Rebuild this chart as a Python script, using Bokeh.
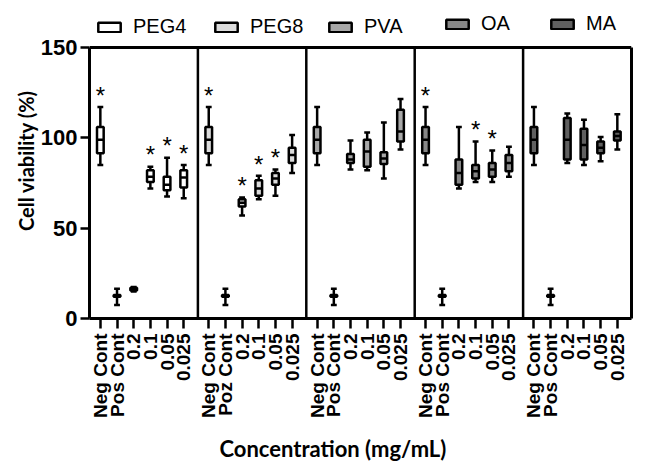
import math
from bokeh.plotting import figure
from bokeh.models import (Range1d, FixedTicker, Span, Legend, LegendItem, ColumnDataSource,
                          LinearAxis, Title)
from bokeh.core.properties import value
from bokeh.embed import file_html
from bokeh.resources import INLINE

# ---------------- data ----------------
groups = ["PEG4", "PEG8", "PVA", "OA", "MA"]
group_colors = ["#ffffff", "#dcdcdc", "#a8a8a8", "#878787", "#606060"]
tick_labels = [
    "Neg Cont", "Pos Cont", "0.2", "0.1", "0.05", "0.025",
    "Neg Cont", "Poz Cont", "0.2", "0.1", "0.05", "0.025",
    "Neg Cont", "Pos Cont", "0.2", "0.1", "0.05", "0.025",
    "Neg Cont", "Pos Cont", "0.2", "0.1", "0.05", "0.025",
    "Neg Cont", "Pos Cont", "0.2", "0.1", "0.05", "0.025",
]
whisker_low = [
    85, 7.5, 15.0, 72.0, 67.5, 66.5,
    85, 7.5, 57.0, 66.0, 68.0, 80.5,
    85, 7.5, 82.5, 82.0, 77.5, 93.5,
    85, 7.5, 72.0, 75.5, 75.5, 78.5,
    85, 7.5, 86.0, 85.0, 87.0, 93.5,
]
box_low = [
    91.5, 12.0, 15.5, 75.5, 71.0, 72.5,
    91.5, 12.0, 62.0, 68.0, 74.0, 86.0,
    91.5, 12.0, 86.0, 84.0, 85.5, 98.0,
    91.5, 12.0, 74.0, 77.5, 78.5, 81.5,
    91.5, 12.0, 88.0, 88.0, 91.5, 98.5,
]
median = [
    99.0, 12.5, 16.0, 78.5, 74.0, 78.0,
    99.0, 12.5, 64.0, 72.0, 77.5, 90.5,
    99.0, 12.5, 88.0, 92.5, 88.5, 103.5,
    99.0, 12.5, 80.5, 81.5, 82.5, 86.0,
    99.0, 12.5, 99.0, 96.0, 94.5, 101.0,
]
box_high = [
    106.0, 13.0, 17.0, 82.0, 78.5, 82.0,
    106.0, 13.0, 66.0, 76.5, 80.5, 94.5,
    106.0, 13.0, 91.0, 99.0, 92.0, 115.5,
    106.0, 13.0, 88.0, 85.0, 86.0, 90.5,
    106.0, 13.0, 111.0, 105.0, 98.0, 103.5,
]
whisker_high = [
    117.0, 16.5, 17.5, 84.0, 89.0, 85.0,
    117.0, 16.5, 67.0, 79.0, 82.5, 101.5,
    117.0, 16.5, 98.5, 103.0, 108.5, 121.5,
    117.0, 16.5, 106.0, 98.0, 93.0, 95.0,
    117.0, 16.5, 113.5, 110.0, 100.5, 113.0,
]
significant = [
    1, 0, 0, 1, 1, 1,
    1, 0, 1, 1, 1, 0,
    0, 0, 0, 0, 0, 0,
    1, 0, 0, 1, 1, 0,
    0, 0, 0, 0, 0, 0,
]
y_ticks = [0, 50, 100, 150]

# ---------------- layout constants ----------------
n_per = 6
step = 20          # spacing between categories (x units)
panel_w = 130      # panel width (x units)
offset = 13        # first category offset inside panel
box_w = 8
cap_w = 7
star_gap = 6.5
y_top = y_ticks[-1]
y_view = 174.9     # extra room above the axes for the legend

xs = [g * panel_w + offset + i * step for g in range(len(groups)) for i in range(n_per)]

p = figure(width=646, height=475, output_backend="svg", toolbar_location=None,
           x_range=Range1d(0, panel_w * len(groups)), y_range=Range1d(0, y_view),
           min_border_left=89, min_border_right=15, min_border_top=2, min_border_bottom=157)
p.background_fill_color = "white"
p.border_fill_color = "white"
p.outline_line_color = None
p.xgrid.visible = False
p.ygrid.visible = False

# panel frame: top line, right axis line, dividers
p.add_layout(Span(location=y_top, dimension="width", line_color="black", line_width=3))
div_x = [k * panel_w for k in range(1, len(groups))]
p.segment(x0=div_x, y0=[0] * len(div_x), x1=div_x, y1=[y_top] * len(div_x),
          line_color="black", line_width=2.5)
right_axis = LinearAxis(bounds=(0, y_top), ticker=FixedTicker(ticks=[]),
                        axis_line_width=3, major_tick_line_color=None, minor_tick_line_color=None,
                        major_label_text_font_size="0px")
p.add_layout(right_axis, "right")

box_renderers = []
for g, color in enumerate(group_colors):
    sl = slice(g * n_per, (g + 1) * n_per)
    x = xs[sl]
    src = ColumnDataSource(dict(
        x=x,
        lo=whisker_low[sl], q1=box_low[sl], med=median[sl], q3=box_high[sl], hi=whisker_high[sl],
        cl=[v - cap_w / 2 for v in x], cr=[v + cap_w / 2 for v in x],
        bl=[v - box_w / 2 for v in x], br=[v + box_w / 2 for v in x],
    ))
    p.segment(x0="x", y0="q3", x1="x", y1="hi", source=src, line_color="black", line_width=2.5)
    p.segment(x0="x", y0="q1", x1="x", y1="lo", source=src, line_color="black", line_width=2.5)
    p.segment(x0="cl", y0="hi", x1="cr", y1="hi", source=src, line_color="black", line_width=2.5)
    p.segment(x0="cl", y0="lo", x1="cr", y1="lo", source=src, line_color="black", line_width=2.5)
    r = p.vbar(x="x", width=box_w, bottom="q1", top="q3", source=src,
               fill_color=color, line_color="black", line_width=2.5)
    p.segment(x0="bl", y0="med", x1="br", y1="med", source=src, line_color="black", line_width=2.5)
    box_renderers.append(r)

star_x = [x for x, s in zip(xs, significant) if s]
star_y = [h + star_gap for h, s in zip(whisker_high, significant) if s]
p.text(x=star_x, y=star_y, text=["*"] * len(star_x), text_font=value("Liberation Sans"),
       text_font_size="24px", text_align="center", text_baseline="alphabetic", text_color="black")

# legend entries (one small legend per group, placed above the panels)
leg_x = [6, 123, 237, 354, 459]
leg_y = [280, 280, 280, 283, 283]
for g, name in enumerate(groups):
    leg = Legend(items=[LegendItem(label=name, renderers=[box_renderers[g]])],
                 location=(leg_x[g], leg_y[g]), orientation="horizontal",
                 glyph_width=28, glyph_height=12, label_standoff=10,
                 label_text_font="Liberation Sans", label_text_font_size="20px",
                 label_text_color="black",
                 padding=0, margin=0, spacing=0,
                 border_line_color=None, background_fill_alpha=0)
    p.add_layout(leg, "center")

# y axis
p.yaxis[0].bounds = (0, y_top)
p.yaxis[0].ticker = FixedTicker(ticks=y_ticks)
p.yaxis[0].axis_line_width = 3
p.yaxis[0].major_tick_line_width = 2.5
p.yaxis[0].major_tick_out = 9
p.yaxis[0].major_tick_in = 0
p.yaxis[0].minor_tick_line_color = None
p.yaxis[0].major_label_standoff = 3
p.yaxis[0].major_label_text_font = "Liberation Sans"
p.yaxis[0].major_label_text_font_style = "bold"
p.yaxis[0].major_label_text_font_size = "22px"
p.yaxis[0].major_label_text_color = "black"
p.yaxis[0].axis_label = "Cell viability (%)"
p.yaxis[0].axis_label_text_font = "Lato"
p.yaxis[0].axis_label_text_font_style = "bold"
p.yaxis[0].axis_label_text_font_size = "20px"
p.yaxis[0].axis_label_text_color = "black"
p.yaxis[0].axis_label_standoff = 0

# x axis
p.xaxis.ticker = FixedTicker(ticks=xs)
p.xaxis.major_label_overrides = {x: lbl for x, lbl in zip(xs, tick_labels)}
p.xaxis.major_label_orientation = math.pi / 2
p.xaxis.axis_line_width = 3
p.xaxis.major_tick_line_width = 2.5
p.xaxis.major_tick_out = 10
p.xaxis.major_tick_in = 0
p.xaxis.minor_tick_line_color = None
p.xaxis.major_label_standoff = 5
p.xaxis.major_label_text_font = "Liberation Sans"
p.xaxis.major_label_text_font_style = "bold"
p.xaxis.major_label_text_font_size = "19px"
p.xaxis.major_label_text_color = "black"

p.add_layout(Title(text="Concentration (mg/mL)", align="left", offset=130,
                   text_font="Lato", text_font_style="bold", text_font_size="22px",
                   text_color="black", standoff=25), "below")

open("out.html", "w").write(file_html(p, INLINE))
